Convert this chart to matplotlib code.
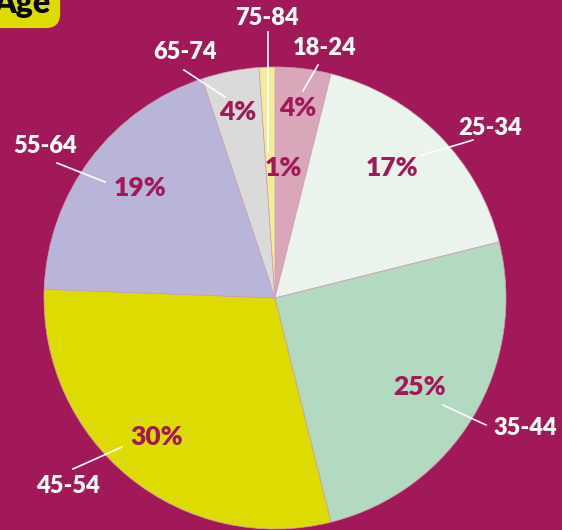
import matplotlib.pyplot as plt

# age groups and their shares (clockwise from 12 o'clock)
groups = ['18-24', '25-34', '35-44', '45-54', '55-64', '65-74', '75-84']
shares = [3.9, 17.2, 25.0, 29.5, 19.3, 4.0, 1.1]
pct_labels = ['4%', '17%', '25%', '30%', '19%', '4%', '1%']
colors = ['#D9A6BA', '#EAF4EC', '#B3D9C0', '#DEDB00', '#B8B5D9', '#DADADA', '#F2EB9C']

bg = '#A2195A'
W, H = 562, 530

fig = plt.figure(figsize=(W / 100, H / 100), dpi=100, facecolor=bg)
ax = fig.add_axes([0, 0, 1, 1])
ax.set_facecolor(bg)

cx, cy, r = 275, H - 298, 231
ax.pie(shares, colors=colors, startangle=90, counterclock=False,
       center=(cx, cy), radius=r,
       wedgeprops=dict(edgecolor='#CFA0B5', linewidth=0.5))
ax.set_xlim(0, W)
ax.set_ylim(0, H)
ax.set_aspect('equal')
ax.axis('off')

# label placement in pixel coords (x, y from top)
name_pos = [(325, 48), (490, 128), (525, 428), (68, 486), (45, 146), (185, 52), (267, 18)]
pct_pos = [(298, 108), (392, 168), (420, 387), (157, 437), (140, 188), (238, 112), (283, 168)]
leaders = [((318, 65), (303, 91)), ((473, 140), (420, 156)), ((443, 405), (486, 425)),
           ((73, 469), (122, 447)), ((57, 163), (105, 182)), ((184, 70), (225, 97)),
           ((268, 32), (268, 152))]

font = dict(family='Lato', fontweight='heavy')
for name, pct, (nx, ny), (px, py), (a, b) in zip(groups, pct_labels, name_pos, pct_pos, leaders):
    ax.plot([a[0], b[0]], [H - a[1], H - b[1]], color='white', lw=1.2)
    ax.text(nx, H - ny, name, color='white', fontsize=17, ha='center', va='center', **font)
    ax.text(px, H - py, pct, color=bg, fontsize=19, ha='center', va='center', **font)

# cropped title tag
ax.text(22, H - 4, 'Age', color='black', fontsize=23, ha='center', va='center', **font,
        bbox=dict(boxstyle='round,pad=0.3,rounding_size=0.45', fc='#DEDB00', ec='none'))

fig.savefig('out.png', dpi=100, facecolor=bg)
